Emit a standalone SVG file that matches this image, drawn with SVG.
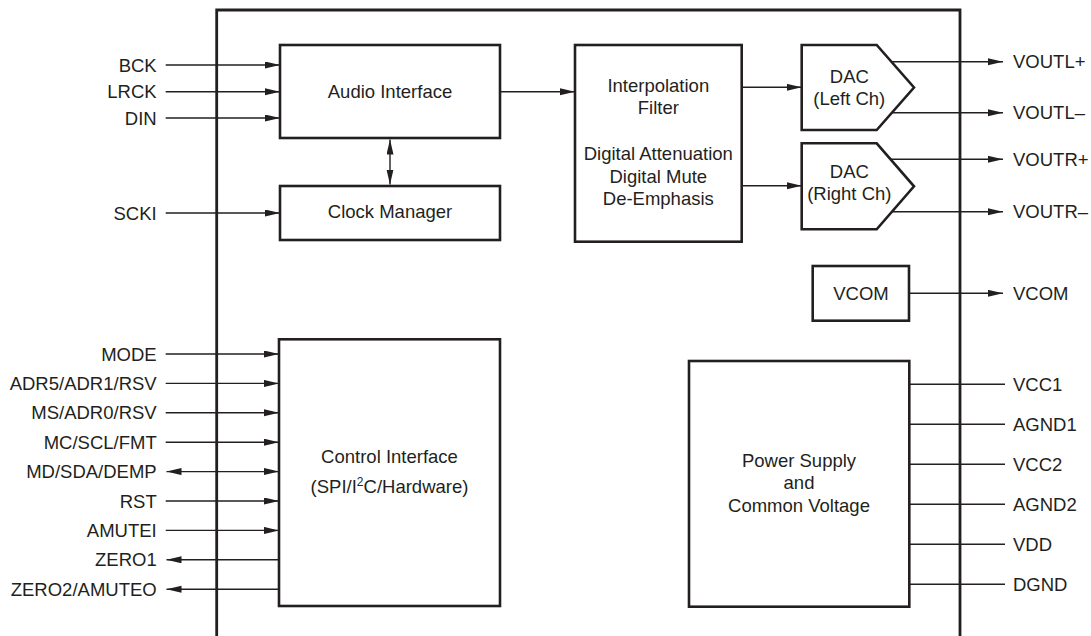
<svg xmlns="http://www.w3.org/2000/svg" width="1091" height="636" viewBox="0 0 1091 636">
<style>
text{font-family:"Liberation Sans",Arial,Helvetica,sans-serif;font-size:18.5px;fill:#231f20}
.box{fill:#fff;stroke:#231f20;stroke-width:2.6}
.outer{fill:none;stroke:#231f20;stroke-width:2.8}
.c{fill:none;stroke:#231f20;stroke-width:1.4}
.a{marker-end:url(#ah)}
.b{marker-start:url(#ah);marker-end:url(#ah)}
.m{text-anchor:middle}
.e{text-anchor:end}
</style>
<defs>
<marker id="ah" markerUnits="userSpaceOnUse" markerWidth="16" markerHeight="8" refX="15" refY="3.5" orient="auto-start-reverse">
<path d="M0,0 L15,3.5 L0,7 z" fill="#231f20"/>
</marker>
</defs>
<rect width="1091" height="636" fill="#fff"/>
<path id="outer" class="outer" d="M216.7,640 V10 H960 V640"/>

<g id="connectors">
<line class="c a" x1="165.7" y1="65" x2="280" y2="65"/>
<line class="c a" x1="165.7" y1="91.7" x2="280" y2="91.7"/>
<line class="c a" x1="165.7" y1="118" x2="280" y2="118"/>
<line class="c a" x1="165.7" y1="213" x2="280" y2="213"/>
<line class="c b" x1="390" y1="139.5" x2="390" y2="184.5"/>
<line class="c a" x1="500" y1="91.7" x2="575" y2="91.7"/>
<line class="c a" x1="741.7" y1="87.3" x2="801.7" y2="87.3"/>
<line class="c a" x1="741.7" y1="185.7" x2="801.7" y2="185.7"/>
<line class="c a" x1="891.5" y1="61.7" x2="1003" y2="61.7"/>
<line class="c a" x1="891.8" y1="112.7" x2="1003" y2="112.7"/>
<line class="c a" x1="890.6" y1="159.3" x2="1003" y2="159.3"/>
<line class="c a" x1="892" y1="211.7" x2="1003" y2="211.7"/>
<line class="c a" x1="909" y1="293.3" x2="1003" y2="293.3"/>
<line class="c a" x1="165.7" y1="354" x2="279" y2="354"/>
<line class="c a" x1="165.7" y1="383.4" x2="279" y2="383.4"/>
<line class="c a" x1="165.7" y1="412.8" x2="279" y2="412.8"/>
<line class="c a" x1="165.7" y1="442.2" x2="279" y2="442.2"/>
<line class="c b" x1="166.5" y1="471.6" x2="279" y2="471.6"/>
<line class="c a" x1="165.7" y1="501" x2="279" y2="501"/>
<line class="c a" x1="165.7" y1="530.4" x2="279" y2="530.4"/>
<line class="c a" x1="279" y1="559.8" x2="166.5" y2="559.8"/>
<line class="c a" x1="279" y1="589.2" x2="166.5" y2="589.2"/>
<line class="c" x1="909.3" y1="384.3" x2="1005" y2="384.3"/>
<line class="c" x1="909.3" y1="424.3" x2="1005" y2="424.3"/>
<line class="c" x1="909.3" y1="464.3" x2="1005" y2="464.3"/>
<line class="c" x1="909.3" y1="504.3" x2="1005" y2="504.3"/>
<line class="c" x1="909.3" y1="544.3" x2="1005" y2="544.3"/>
<line class="c" x1="909.3" y1="584.3" x2="1005" y2="584.3"/>
</g>

<g id="pins-left">
<text class="e" x="156.7" y="71.6">BCK</text>
<text class="e" x="156.7" y="98.3">LRCK</text>
<text class="e" x="156.7" y="124.6">DIN</text>
<text class="e" x="156.7" y="219.6">SCKI</text>
<text class="e" x="156.7" y="360.6">MODE</text>
<text class="e" x="156.7" y="390">ADR5/ADR1/RSV</text>
<text class="e" x="156.7" y="419.4">MS/ADR0/RSV</text>
<text class="e" x="156.7" y="448.8">MC/SCL/FMT</text>
<text class="e" x="156.7" y="478.2">MD/SDA/DEMP</text>
<text class="e" x="156.7" y="507.6">RST</text>
<text class="e" x="156.7" y="537">AMUTEI</text>
<text class="e" x="156.7" y="566.4">ZERO1</text>
<text class="e" x="156.7" y="595.8">ZERO2/AMUTEO</text>
</g>

<g id="pins-right">
<text x="1013" y="68.3">VOUTL+</text>
<text x="1013" y="119.3">VOUTL–</text>
<text x="1013" y="165.9">VOUTR+</text>
<text x="1013" y="218.3">VOUTR–</text>
<text x="1013" y="299.9">VCOM</text>
<text x="1013" y="390.9">VCC1</text>
<text x="1013" y="430.9">AGND1</text>
<text x="1013" y="470.9">VCC2</text>
<text x="1013" y="510.9">AGND2</text>
<text x="1013" y="550.9">VDD</text>
<text x="1013" y="590.9">DGND</text>
</g>

<g id="audio-interface">
<rect class="box" x="280" y="45" width="220" height="93"/>
<text class="m" x="390" y="98.3">Audio Interface</text>
</g>

<g id="clock-manager">
<rect class="box" x="280" y="186" width="220" height="54"/>
<text class="m" x="390" y="218.3">Clock Manager</text>
</g>

<g id="interpolation-filter">
<rect class="box" x="575" y="45" width="166.7" height="196.7"/>
<text class="m" x="658.3" y="91.6">Interpolation</text>
<text class="m" x="658.3" y="113.9">Filter</text>
<text class="m" x="658.3" y="159.9">Digital Attenuation</text>
<text class="m" x="658.3" y="183.3">Digital Mute</text>
<text class="m" x="658.3" y="204.9">De-Emphasis</text>
</g>

<g id="dac-left">
<path class="box" d="M801.7,45 H876.7 L914,87.5 L876.7,130 H801.7 Z"/>
<text class="m" x="849.3" y="83.3">DAC</text>
<text class="m" x="849.3" y="104.9">(Left Ch)</text>
</g>

<g id="dac-right">
<path class="box" d="M801.7,143.3 H876.7 L914,186.3 L876.7,229.3 H801.7 Z"/>
<text class="m" x="849.3" y="178.3">DAC</text>
<text class="m" x="849.3" y="199.9">(Right Ch)</text>
</g>

<g id="vcom">
<rect class="box" x="812.7" y="266" width="96.3" height="54.7"/>
<text class="m" x="861" y="299.9">VCOM</text>
</g>

<g id="control-interface">
<rect class="box" x="279" y="339.3" width="221" height="266.7"/>
<text class="m" x="389.5" y="463.3">Control Interface</text>
<text class="m" x="389.5" y="493.3">(SPI/I<tspan dy="-7" font-size="12">2</tspan><tspan dy="7">C/Hardware)</tspan></text>
</g>

<g id="power-supply">
<rect class="box" x="689" y="361" width="220.3" height="245.7"/>
<text class="m" x="799" y="466.6">Power Supply</text>
<text class="m" x="799" y="489.3">and</text>
<text class="m" x="799" y="511.6">Common Voltage</text>
</g>
</svg>
